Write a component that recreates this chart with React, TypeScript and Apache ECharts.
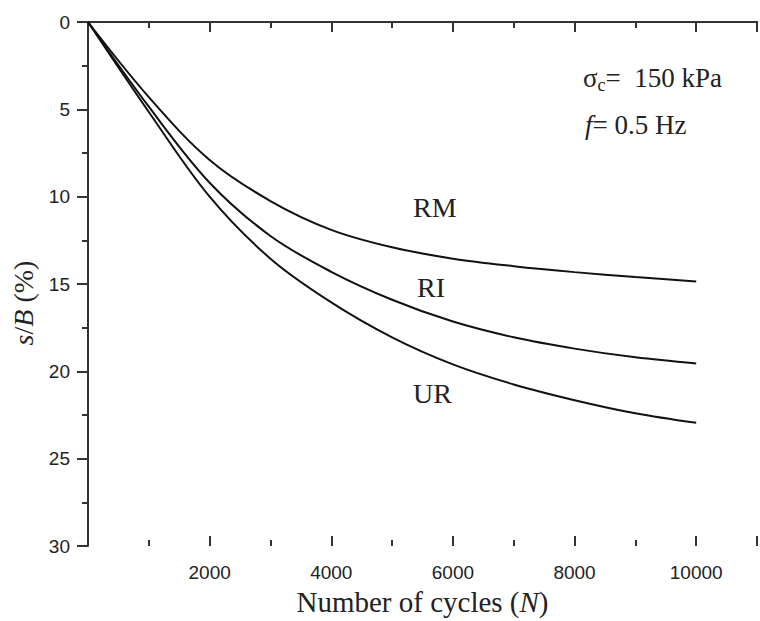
import React, { useEffect, useRef } from "react";
import * as echarts from "echarts";

const cycles = [0, 1000, 2000, 3000, 4000, 5000, 6000, 7000, 8000, 9000, 10000];
const rmValues = [0, 4.3, 7.9, 10.25, 11.9, 12.9, 13.55, 13.98, 14.32, 14.6, 14.85];
const riValues = [0, 4.85, 9.2, 12.25, 14.3, 15.9, 17.15, 18.05, 18.7, 19.2, 19.55];
const urValues = [0, 5.15, 10.0, 13.55, 16.05, 18.05, 19.6, 20.75, 21.65, 22.4, 22.95];
const seriesNames = ["RM", "RI", "UR"];

const SERIF = "'Liberation Serif', 'Times New Roman', serif";
const SANS = "'Liberation Sans', Arial, sans-serif";
const AXIS_COLOR = "#333";

export default function App() {
  const ref = useRef<HTMLDivElement>(null);
  useEffect(() => {
    if (!ref.current) return;
    const chart = echarts.init(ref.current, undefined, { renderer: "svg" });
    const mk = (vals: number[]) => cycles.map((c, i) => [c, vals[i]]);
    const allVals = [rmValues, riValues, urValues];
    chart.setOption({
      animation: false,
      backgroundColor: "#fff",
      grid: { left: 88, right: -8, top: 22, bottom: 75, containLabel: false },
      xAxis: [
        {
          type: "value",
          position: "bottom",
          min: 0,
          max: 11000,
          interval: 2000,
          axisLine: { show: true, lineStyle: { color: AXIS_COLOR, width: 2 } },
          axisTick: { show: true, inside: false, length: 10, lineStyle: { color: AXIS_COLOR, width: 2 } },
          minorTick: { show: true, splitNumber: 2, length: 6, lineStyle: { color: AXIS_COLOR, width: 2 } },
          splitLine: { show: false },
          axisLabel: {
            show: true,
            margin: 17,
            fontSize: 19,
            fontFamily: SANS,
            color: "#222",
            formatter: (v: number) => (v === 0 || v === 11000 ? "" : String(v)),
          },
          name: "{n|Number of cycles (}{i|N}{n|)}",
          nameLocation: "middle",
          nameGap: 41,
          nameTextStyle: {
            rich: {
              n: { fontFamily: SERIF, fontSize: 29, color: "#222" },
              i: { fontFamily: SERIF, fontSize: 29, fontStyle: "italic", color: "#222" },
            },
          },
        },
        {
          type: "value",
          position: "bottom",
          min: 0,
          max: 11000,
          interval: 2000,
          axisLine: { show: false },
          axisTick: { show: true, inside: true, length: 10, lineStyle: { color: AXIS_COLOR, width: 2 } },
          minorTick: { show: true, splitNumber: 2, length: 6, lineStyle: { color: AXIS_COLOR, width: 2 } },
          splitLine: { show: false },
          axisLabel: { show: false },
        },
        {
          type: "value",
          position: "top",
          min: 0,
          max: 11000,
          axisLine: { show: true, lineStyle: { color: AXIS_COLOR, width: 2 } },
          axisTick: { show: false },
          splitLine: { show: false },
          axisLabel: { show: false },
        },
      ],
      yAxis: {
        type: "value",
        inverse: true,
        min: 0,
        max: 30,
        interval: 5,
        axisLine: { show: true, lineStyle: { color: AXIS_COLOR, width: 2 } },
        axisTick: { show: true, inside: false, length: 11, lineStyle: { color: AXIS_COLOR, width: 2 } },
        minorTick: { show: true, splitNumber: 2, length: 6, lineStyle: { color: AXIS_COLOR, width: 2 } },
        splitLine: { show: false },
        axisLabel: { margin: 18, fontSize: 19, fontFamily: SANS, color: "#222" },
        name: "{i|s}{n|/}{i|B}{n| (%)}",
        nameLocation: "middle",
        nameGap: 47,
        nameRotate: 90,
        nameTextStyle: {
          padding: [0, 38, 0, 0],
          rich: {
            n: { fontFamily: SERIF, fontSize: 28, color: "#222" },
            i: { fontFamily: SERIF, fontSize: 28, fontStyle: "italic", color: "#222" },
          },
        },
      },
      series: seriesNames.map((name, k) => ({
        name,
        type: "line",
        xAxisIndex: 0,
        data: mk(allVals[k]),
        smooth: 0.35,
        showSymbol: false,
        symbol: "none",
        lineStyle: { color: "#111", width: 2 },
      })),
      graphic: [
        {
          type: "text",
          x: 583,
          y: 78,
          style: {
            text: "{s|σ}{c|c}{s|=  150 kPa}",
            verticalAlign: "middle",
            rich: {
              s: { fontFamily: SERIF, fontSize: 27, fill: "#222" },
              c: { fontFamily: SERIF, fontSize: 18, fill: "#222", padding: [14, 0, 0, 0] },
            },
          },
        },
        {
          type: "text",
          x: 585,
          y: 125,
          style: {
            text: "{i|f}{s|= 0.5 Hz}",
            verticalAlign: "middle",
            rich: {
              s: { fontFamily: SERIF, fontSize: 27, fill: "#222" },
              i: { fontFamily: SERIF, fontSize: 27, fontStyle: "italic", fill: "#222" },
            },
          },
        },
        { type: "text", x: 413, y: 207, style: { text: "RM", fontFamily: SERIF, fontSize: 28, fill: "#222", verticalAlign: "middle" } },
        { type: "text", x: 417, y: 287, style: { text: "RI", fontFamily: SERIF, fontSize: 28, fill: "#222", verticalAlign: "middle" } },
        { type: "text", x: 413, y: 393, style: { text: "UR", fontFamily: SERIF, fontSize: 28, fill: "#222", verticalAlign: "middle" } },
      ],
    });
    return () => chart.dispose();
  }, []);
  return <div ref={ref} style={{ position: "fixed", left: 0, top: 0, width: 760, height: 621 }} />;
}
